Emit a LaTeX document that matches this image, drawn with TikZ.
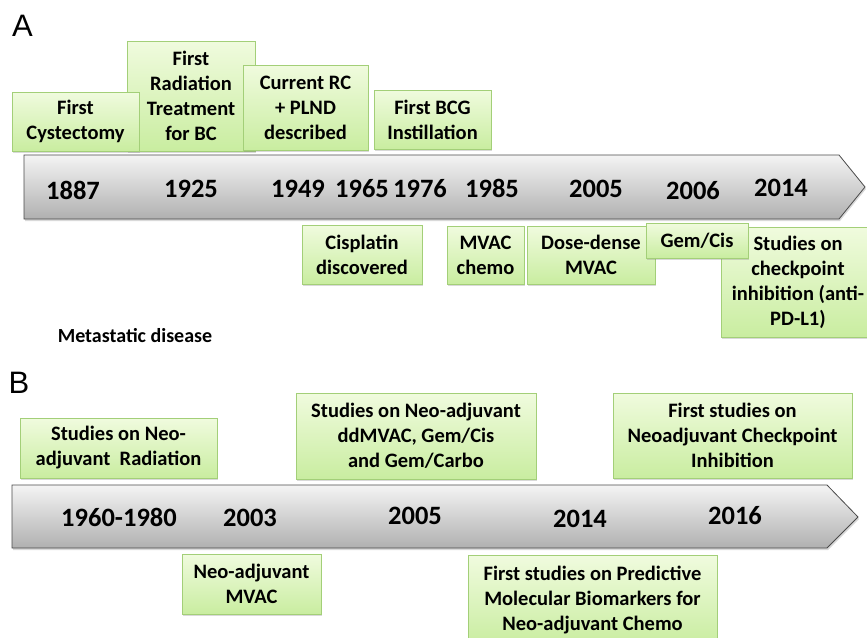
\documentclass[tikz,border=0pt]{standalone}
\usepackage{fontspec}
\setmainfont{Carlito}
\newfontfamily\panelfont{Liberation Sans}
\usetikzlibrary{shadows}
\definecolor{boxtop}{HTML}{F0FBDE}
\definecolor{boxbot}{HTML}{C9EDA0}
\definecolor{boxedge}{HTML}{A3CF78}
\definecolor{bartop}{HTML}{F4F4F4}
\definecolor{barbot}{HTML}{B0B0B0}
\definecolor{baredge}{HTML}{4A4A4A}
\tikzset{
  event/.style={draw=boxedge, line width=0.8pt, top color=boxtop, bottom color=boxbot,
    align=center, inner sep=0pt, font=\fontsize{20.5}{25}\selectfont\bfseries,
    drop shadow={shadow xshift=1pt, shadow yshift=-2pt, opacity=0.3}},
  yearlbl/.style={inner sep=0pt, font=\fontsize{26.5}{30}\selectfont\bfseries},
  timeline/.style={draw=baredge, line width=0.8pt, top color=bartop, bottom color=barbot,
    drop shadow={shadow xshift=1pt, shadow yshift=-2pt, opacity=0.3}},
  panel/.style={inner sep=0pt, font=\panelfont\fontsize{31}{31}\selectfont}
}
\begin{document}
\begin{tikzpicture}[x=1pt, y=1pt]
    \useasboundingbox (0,0) rectangle (867,-637);
    \clip (0,0) rectangle (867,-637);

    % panel A
    \node[panel] (labA) at (22.5,-26) {A};
    \path[timeline] (24,-155) -- (839,-155) -- (865,-187) -- (839,-219) -- (24,-219) -- cycle;

    \node[yearlbl] (a1887) at (73,-190.5) {1887};
    \node[yearlbl] (a1925) at (191,-189) {1925};
    \node[yearlbl] (a1949) at (298,-188.5) {1949};
    \node[yearlbl] (a1965) at (362,-188.5) {1965};
    \node[yearlbl] (a1976) at (420,-188.5) {1976};
    \node[yearlbl] (a1985) at (492,-188.5) {1985};
    \node[yearlbl] (a2005) at (596,-189) {2005};
    \node[yearlbl] (a2006) at (693,-191) {2006};
    \node[yearlbl] (a2014) at (781,-187.5) {2014};

    \node[event, minimum width=128pt, minimum height=110pt] (radiation) at (191,-96) {First\\Radiation\\Treatment\\for BC};
    \node[event, minimum width=127pt, minimum height=59pt] (cystectomy) at (75.5,-121.5) {First\\Cystectomy};
    \node[event, minimum width=125pt, minimum height=85pt] (plnd) at (305.5,-107.5) {Current RC\\+ PLND\\described};
    \node[event, minimum width=117pt, minimum height=59pt] (bcg) at (432.5,-119.5) {First BCG\\Instillation};

    \node[event, minimum width=120pt, minimum height=59pt] (cisplatin) at (362,-254.5) {Cisplatin\\discovered};
    \node[event, minimum width=77pt, minimum height=58pt] (mvac) at (485.5,-255) {MVAC\\chemo};
    \node[event, minimum width=128pt, minimum height=58pt] (ddmvac) at (591,-255) {Dose-dense\\MVAC};
    \node[event, minimum width=154pt, minimum height=110pt] (antipd) at (798,-282) {Studies on\\checkpoint\\inhibition (anti-\\PD-L1)};
    \node[event, minimum width=102pt, minimum height=35pt] (gemcis) at (697,-240.5) {Gem/Cis};

    \node[inner sep=0pt, font=\fontsize{20}{24}\selectfont\bfseries] (meta) at (135,-336) {Metastatic disease};

    % panel B
    \node[panel] (labB) at (19,-383) {B};
    \path[timeline] (12,-485) -- (827,-485) -- (858,-517) -- (827,-548) -- (12,-548) -- cycle;

    \node[yearlbl] (b1960) at (119,-517.5) {1960-1980};
    \node[yearlbl] (b2003) at (250,-517.5) {2003};
    \node[yearlbl] (b2005) at (415,-516) {2005};
    \node[yearlbl] (b2014) at (580,-519) {2014};
    \node[yearlbl] (b2016) at (735,-515.5) {2016};

    \node[event, minimum width=197pt, minimum height=60pt] (neorad) at (118.5,-448) {Studies on Neo-\\adjuvant~ Radiation};
    \node[event, minimum width=240pt, minimum height=86pt] (neochemo) at (416,-436) {Studies on Neo-adjuvant\\ddMVAC, Gem/Cis\\and Gem/Carbo};
    \node[event, minimum width=239pt, minimum height=85pt] (neockpt) at (732.5,-435.5) {First studies on\\Neoadjuvant Checkpoint\\Inhibition};
    \node[event, minimum width=139pt, minimum height=60pt] (neomvac) at (251.5,-584) {Neo-adjuvant\\MVAC};
    \node[event, minimum width=249pt, minimum height=90pt] (biomark) at (592.5,-600.5) {First studies on Predictive\\Molecular Biomarkers for\\Neo-adjuvant Chemo};
\end{tikzpicture}
\end{document}
